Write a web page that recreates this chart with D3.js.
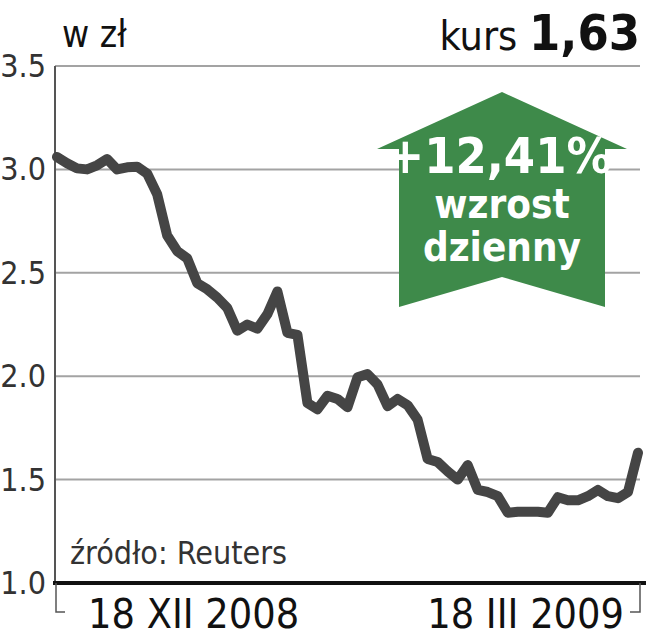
<!DOCTYPE html>
<html>
<head>
<meta charset="utf-8">
<script src="https://cdn.jsdelivr.net/npm/d3@7"></script>
<style>
  body { margin: 0; background: #fff; }
  svg text { font-family: "DejaVu Sans Condensed", "DejaVu Sans", sans-serif; font-stretch: condensed; }
</style>
</head>
<body>
<div id="chart"></div>
<script>
// closing prices, one per session, 18 XII 2008 .. 18 III 2009
const prices = [
  3.06, 3.03, 3.005, 3.00, 3.02, 3.05, 3.00, 3.01, 3.013, 2.98,
  2.88, 2.68, 2.605, 2.57, 2.45, 2.42, 2.38, 2.33, 2.22, 2.25,
  2.23, 2.30, 2.41, 2.21, 2.20, 1.87, 1.84, 1.905, 1.89, 1.85,
  1.995, 2.01, 1.96, 1.855, 1.89, 1.86, 1.79, 1.60, 1.585, 1.54,
  1.50, 1.57, 1.45, 1.44, 1.42, 1.34, 1.345, 1.345, 1.345, 1.34,
  1.415, 1.40, 1.40, 1.42, 1.45, 1.42, 1.41, 1.44, 1.63
];
const yTicks = [1.0, 1.5, 2.0, 2.5, 3.0, 3.5];
const dateLabels = ["18 XII 2008", "18 III 2009"];
const unitLabel = "w zł";
const lastLabel = "kurs";
const lastValue = "1,63";
const changeLabel = ["+12,41%", "wzrost", "dzienny"];
const sourceLabel = "źródło: Reuters";

var width = 646, height = 640;
var margin = { top: 66, right: 6, bottom: 57, left: 55 };

const svg = d3.select("#chart").append("svg")
  .attr("width", width)
  .attr("height", height);

var x = d3.scaleLinear()
  .domain([0, prices.length - 1])
  .range([margin.left + 2, width - margin.right - 2]);

var y = d3.scaleLinear()
  .domain([1, 3.5])
  .range([height - margin.bottom, margin.top]);

// gridlines
svg.append("g")
  .selectAll("line")
  .data(yTicks.filter(d => d > 1))
  .enter().append("line")
  .attr("x1", margin.left)
  .attr("x2", width - margin.right)
  .attr("y1", d => y(d))
  .attr("y2", d => y(d))
  .attr("stroke", "#a3a3a3")
  .attr("stroke-width", 2);

// y labels
svg.append("g")
  .selectAll("text")
  .data(yTicks)
  .enter().append("text")
  .attr("x", margin.left - 9)
  .attr("y", d => y(d) + 11)
  .attr("text-anchor", "end")
  .attr("font-size", 32)
  .attr("fill", "#333")
  .text(d => d.toFixed(1));

// left axis
svg.append("line")
  .attr("x1", margin.left).attr("x2", margin.left)
  .attr("y1", y(3.5)).attr("y2", y(1))
  .attr("stroke", "#555")
  .attr("stroke-width", 2);

// green arrow
var ax = 502, ay = 92;
var arrow = [
  [ax, ay], [ax + 125, ay + 57], [ax + 103, ay + 57], [ax + 103, ay + 215],
  [ax, ay + 185], [ax - 103, ay + 215], [ax - 103, ay + 57], [ax - 125, ay + 57]
];
svg.append("polygon")
  .attr("points", arrow.map(p => p.join(",")).join(" "))
  .attr("fill", "#3e8a4a");

svg.append("g")
  .selectAll("text")
  .data(changeLabel)
  .enter().append("text")
  .attr("x", (d, i) => i === 0 ? ax - 3 : ax)
  .attr("y", (d, i) => [173, 218, 261][i])
  .attr("text-anchor", "middle")
  .attr("font-weight", "bold")
  .attr("font-size", (d, i) => i === 0 ? 50 : 40)
  .attr("fill", "#fff")
  .text(d => d);

// price line
var line = d3.line()
  .x((d, i) => x(i))
  .y(d => y(d));

svg.append("path")
  .datum(prices)
  .attr("d", line)
  .attr("fill", "none")
  .attr("stroke", "#454545")
  .attr("stroke-width", 10)
  .attr("stroke-linejoin", "round")
  .attr("stroke-linecap", "round");

// bottom axis
svg.append("line")
  .attr("x1", margin.left - 2).attr("x2", width)
  .attr("y1", y(1)).attr("y2", y(1))
  .attr("stroke", "#111")
  .attr("stroke-width", 4);

// brackets for the date range
var by = y(1) + 29;
svg.append("path")
  .attr("d", "M" + (margin.left + 1) + "," + y(1) + "V" + by + "H" + (margin.left + 10))
  .attr("fill", "none").attr("stroke", "#555").attr("stroke-width", 1.5);
svg.append("path")
  .attr("d", "M" + (width - margin.right) + "," + y(1) + "V" + by + "H" + (width - margin.right - 10))
  .attr("fill", "none").attr("stroke", "#555").attr("stroke-width", 1.5);

svg.append("text")
  .attr("x", 88).attr("y", 628)
  .attr("font-size", 41)
  .attr("fill", "#111")
  .text(dateLabels[0]);
svg.append("text")
  .attr("x", 624).attr("y", 628)
  .attr("text-anchor", "end")
  .attr("font-size", 41)
  .attr("fill", "#111")
  .text(dateLabels[1]);

// header
svg.append("text")
  .attr("x", 62).attr("y", 47)
  .attr("font-size", 37)
  .attr("fill", "#111")
  .text(unitLabel);
svg.append("text")
  .attr("x", 640).attr("y", 50)
  .attr("text-anchor", "end")
  .attr("font-size", 41)
  .attr("fill", "#111")
  .call(t => {
    t.append("tspan").text(lastLabel + " ");
    t.append("tspan").attr("font-weight", "bold").attr("font-size", 50).text(lastValue);
  });

// source
svg.append("text")
  .attr("x", 70).attr("y", 564)
  .attr("font-size", 32)
  .attr("fill", "#333")
  .text(sourceLabel);
</script>
</body>
</html>
